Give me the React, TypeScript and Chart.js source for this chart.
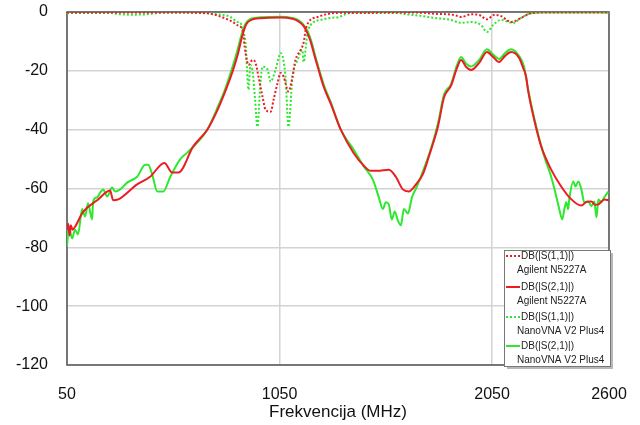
import React, { useEffect, useRef } from "react";
import { Chart, registerables } from "chart.js";

Chart.register(...registerables);

// Axis ticks
const xTickValues = [50, 1050, 2050, 2600];
const yMin = -120;
const yMax = 0;
const yStep = 20;

// Agilent N5227A, DB(|S(2,1)|)
const agS21Freq = [50, 56, 62, 68, 76, 88, 125, 192, 253, 267, 291, 380, 441, 508, 545, 574, 644, 710, 760, 800, 830, 855, 875, 895, 920, 960, 1055, 1110, 1135, 1160, 1180, 1196, 1215, 1235, 1258, 1290, 1338, 1399, 1450, 1479, 1512, 1564, 1597, 1630, 1658, 1692, 1725, 1753, 1795, 1824, 1857, 1885, 1904, 1927, 1951, 1989, 2026, 2055, 2083, 2110, 2140, 2177, 2196, 2210, 2220, 2248, 2281, 2328, 2375, 2423, 2470, 2495, 2517, 2535, 2550, 2578, 2600];
const agS21Db = [-74, -72, -76, -72.5, -74, -73, -68, -64, -60.7, -64, -63.7, -58.6, -56, -51.3, -54.6, -54.6, -45.7, -40, -33, -26, -20, -14, -8, -4, -2.6, -2.1, -1.9, -2.3, -3, -4.5, -7, -10, -15, -20, -25.5, -31, -40, -48, -52.5, -54, -54, -53.6, -56, -60.3, -61, -58.6, -55, -49, -39, -29, -25, -19, -16.3, -18.6, -19.7, -17.3, -13.6, -15.3, -17, -15, -13.6, -15.6, -19, -22, -27, -36.6, -45.7, -53.6, -59.3, -63.7, -65.8, -64.5, -64.4, -65.5, -65.4, -63.7, -64];

// Agilent N5227A, DB(|S(1,1)|)
const agS11Freq = [50, 300, 600, 700, 739, 758, 805, 833, 852, 875, 890, 904, 923, 937, 951, 970, 984, 1008, 1022, 1041, 1055, 1069, 1092, 1111, 1125, 1149, 1163, 1173, 1187, 1229, 1276, 1320, 1700, 1780, 1871, 1904, 1951, 1989, 2026, 2059, 2092, 2140, 2187, 2234, 2280, 2600];
const agS11Db = [-0.2, -0.2, -0.2, -0.4, -0.8, -1.2, -2.5, -3.5, -4.5, -6, -14, -18, -16.3, -17.3, -22, -28.8, -33.2, -33.9, -29.8, -24, -20.7, -22, -27, -22, -16.3, -12.9, -10.5, -6, -3.4, -1.7, -0.7, -0.3, -0.2, -0.6, -1, -1.7, -0.8, -1, -2.5, -1, -1.4, -3.4, -2, -0.4, -0.2, -0.2];

// NanoVNA V2 Plus4, DB(|S(2,1)|)
const nvS21Freq = [50, 59, 74, 88, 102, 121, 135, 149, 168, 173, 192, 206, 220, 239, 262, 276, 300, 333, 380, 418, 432, 451, 475, 503, 536, 583, 616, 663, 710, 755, 795, 825, 850, 870, 890, 915, 960, 1055, 1110, 1140, 1165, 1185, 1200, 1218, 1238, 1262, 1290, 1338, 1399, 1446, 1489, 1517, 1536, 1550, 1564, 1578, 1592, 1607, 1621, 1635, 1654, 1673, 1692, 1715, 1762, 1795, 1824, 1857, 1885, 1904, 1927, 1951, 1989, 2026, 2055, 2083, 2110, 2140, 2177, 2200, 2220, 2248, 2295, 2328, 2352, 2366, 2380, 2390, 2399, 2408, 2413, 2432, 2442, 2456, 2470, 2484, 2503, 2517, 2531, 2541, 2550, 2564, 2578, 2597];
const nvS21Db = [-79.7, -73, -77, -74, -75.6, -67, -69.5, -65, -70.5, -64.4, -63, -61.4, -60.3, -62.7, -59.7, -61, -60.3, -58, -56, -51.9, -51.9, -55.3, -61, -61, -56, -50, -47.8, -44.4, -40, -33, -26, -19.5, -13.5, -8, -4, -2.3, -1.8, -1.6, -2, -2.8, -4.5, -7, -10, -15, -20, -25.5, -30.5, -40, -46.8, -52.5, -57, -63, -67, -64.7, -65.4, -70.5, -67.8, -71, -72.5, -67, -68.5, -63, -60, -56, -46.5, -38, -28, -24.5, -18, -15.3, -17.5, -18.5, -16.3, -12.7, -14.5, -16, -14, -12.7, -15, -18.5, -26.5, -36, -49, -56, -62.7, -67, -70.5, -67, -64.7, -67, -63.7, -57.6, -59.3, -57.6, -60.3, -64.7, -64.4, -66, -64.4, -69.8, -63.7, -64.7, -63, -61];

// NanoVNA V2 Plus4, DB(|S(1,1)|)
const nvS11Freq = [50, 70, 250, 290, 350, 420, 470, 520, 700, 760, 786, 819, 852, 866, 875, 890, 904, 913, 925, 935, 946, 960, 970, 994, 1008, 1031, 1055, 1078, 1092, 1111, 1135, 1158, 1163, 1182, 1206, 1243, 1290, 1330, 1352, 1385, 1600, 1650, 1715, 1777, 1857, 1904, 1951, 1998, 2026, 2055, 2092, 2149, 2187, 2234, 2300, 2550, 2600];
const nvS11Db = [-0.6, -0.3, -0.3, -0.7, -0.9, -0.8, -0.4, -0.2, -0.3, -0.8, -1, -1.7, -3.4, -3.7, -6, -10.5, -26.4, -18, -21, -30, -39, -24, -18.6, -19.7, -23.7, -19.7, -14, -22, -39, -22, -16.3, -12.9, -17, -7, -3.7, -2.7, -2, -1.7, -1, -0.3, -0.3, -0.8, -1.3, -2, -2.7, -3.7, -3.4, -4.4, -6.8, -4.4, -2.7, -3.7, -2, -0.4, -0.2, -0.2, -0.3];

// Legend texts
const legendLine1 = ["DB(|S(1,1)|)", "DB(|S(2,1)|)", "DB(|S(1,1)|)", "DB(|S(2,1)|)"];
const legendLine2 = ["Agilent N5227A", "Agilent N5227A", "NanoVNA V2 Plus4", "NanoVNA V2 Plus4"];

const RED = "#ec1c24";
const GREEN = "#2ee82e";
const FONT = "'Liberation Sans', Arial, sans-serif";

export default function App() {
  const ref = useRef<HTMLCanvasElement | null>(null);

  useEffect(() => {
    if (!ref.current) return;
    const pts = (f: number[], d: number[]) => f.map((x, i) => ({ x, y: d[i] }));

    const framePlugin = {
      id: "frame",
      beforeDatasetsDraw(chart: any) {
        const { ctx, chartArea: a } = chart;
        ctx.save();
        ctx.strokeStyle = "#555";
        ctx.lineWidth = 1.5;
        ctx.strokeRect(a.left, a.top, a.right - a.left, a.bottom - a.top);
        ctx.restore();
      },
    };

    const legendPlugin = {
      id: "customLegend",
      afterDraw(chart: any) {
        const ctx = chart.ctx as CanvasRenderingContext2D;
        const bx = 504, by = 250, bw = 106, bh = 116;
        ctx.save();
        ctx.fillStyle = "#b8b8b8";
        ctx.fillRect(bx + 3, by + 3, bw, bh);
        ctx.fillStyle = "#ffffff";
        ctx.fillRect(bx, by, bw, bh);
        ctx.strokeStyle = "#777";
        ctx.lineWidth = 1;
        ctx.strokeRect(bx + 0.5, by + 0.5, bw, bh);
        const styles = [
          { c: RED, dash: [2, 2] },
          { c: RED, dash: [] },
          { c: GREEN, dash: [2, 2] },
          { c: GREEN, dash: [] },
        ];
        const rowY = [256, 287, 317, 346];
        ctx.font = `10px ${FONT}`;
        ctx.textBaseline = "middle";
        ctx.textAlign = "left";
        for (let i = 0; i < 4; i++) {
          const y = rowY[i];
          ctx.strokeStyle = styles[i].c;
          ctx.lineWidth = 2;
          ctx.setLineDash(styles[i].dash);
          ctx.beginPath();
          ctx.moveTo(506, y);
          ctx.lineTo(520, y);
          ctx.stroke();
          ctx.setLineDash([]);
          ctx.fillStyle = "#222";
          ctx.fillText(legendLine1[i], 521, y);
          ctx.fillText(legendLine2[i], 517, y + 14);
        }
        ctx.restore();
      },
    };

    const chart = new Chart(ref.current, {
      type: "line",
      data: {
        datasets: [
          {
            label: "DB(|S(2,1)|) Agilent N5227A",
            data: pts(agS21Freq, agS21Db),
            borderColor: RED,
            borderWidth: 2,
            pointRadius: 0,
            cubicInterpolationMode: "monotone",
          },
          {
            label: "DB(|S(1,1)|) Agilent N5227A",
            data: pts(agS11Freq, agS11Db),
            borderColor: RED,
            borderWidth: 2,
            borderDash: [2, 2],
            pointRadius: 0,
            cubicInterpolationMode: "monotone",
          },
          {
            label: "DB(|S(2,1)|) NanoVNA V2 Plus4",
            data: pts(nvS21Freq, nvS21Db),
            borderColor: GREEN,
            borderWidth: 2,
            pointRadius: 0,
            cubicInterpolationMode: "monotone",
          },
          {
            label: "DB(|S(1,1)|) NanoVNA V2 Plus4",
            data: pts(nvS11Freq, nvS11Db),
            borderColor: GREEN,
            borderWidth: 2,
            borderDash: [2, 2],
            pointRadius: 0,
            cubicInterpolationMode: "monotone",
          },
        ],
      },
      options: {
        animation: false,
        responsive: false,
        maintainAspectRatio: false,
        layout: { padding: { left: 0, right: 31, top: 12, bottom: 0 } },
        plugins: { legend: { display: false }, tooltip: { enabled: false } },
        scales: {
          x: {
            type: "linear",
            min: 50,
            max: 2600,
            afterBuildTicks: (s: any) => {
              s.ticks = xTickValues.map((v) => ({ value: v }));
            },
            afterFit: (s: any) => {
              s.height = 60;
            },
            ticks: {
              font: { family: FONT, size: 16 },
              color: "#111",
              padding: 0,
              maxRotation: 0,
              autoSkip: false,
              callback: (v: any) => String(v),
            },
            grid: { color: "#d3d3d3", lineWidth: 1.5, drawTicks: true, tickLength: 20, tickColor: "rgba(0,0,0,0)" },
            border: { display: false },
            title: {
              display: true,
              text: "Frekvencija (MHz)",
              font: { family: FONT, size: 17 },
              color: "#111",
              padding: { top: 0, bottom: 2 },
            },
          },
          y: {
            min: yMin,
            max: yMax,
            afterFit: (s: any) => {
              s.width = 67;
            },
            ticks: {
              stepSize: yStep,
              font: { family: FONT, size: 16 },
              color: "#111",
              padding: 0,
            },
            grid: { color: "#d3d3d3", lineWidth: 1.5, drawTicks: true, tickLength: 19, tickColor: "rgba(0,0,0,0)" },
            border: { display: false },
          },
        },
      },
      plugins: [framePlugin, legendPlugin],
    } as any);

    return () => chart.destroy();
  }, []);

  return (
    <div style={{ position: "absolute", left: 0, top: 0, width: 640, height: 425, background: "#fff" }}>
      <canvas ref={ref} width={640} height={425} />
    </div>
  );
}
